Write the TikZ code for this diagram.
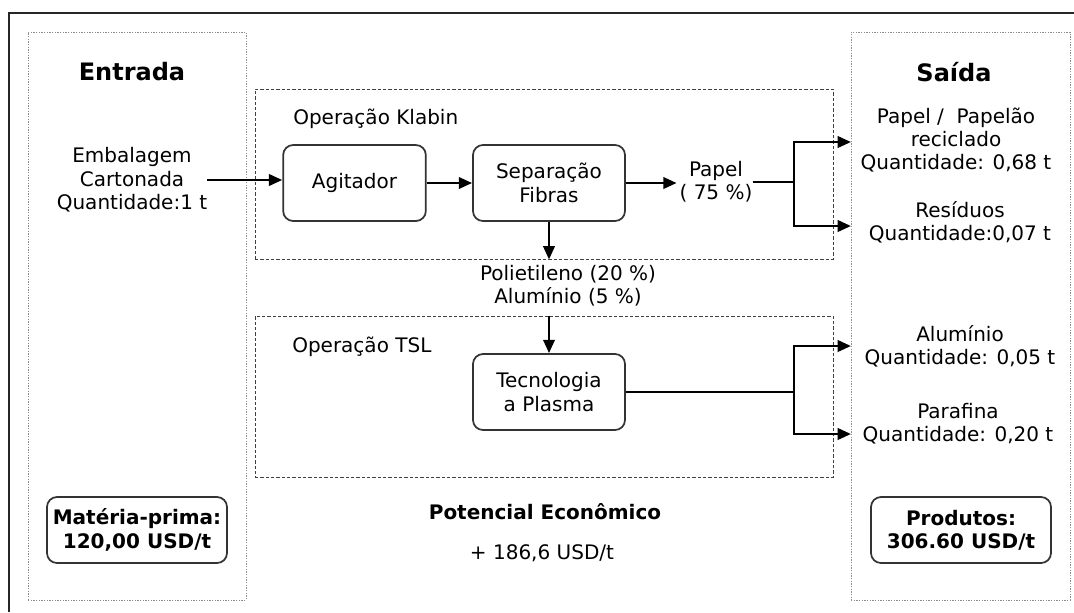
\documentclass[tikz,border=0pt]{standalone}
\usepackage{fontspec}
\setmainfont{DejaVu Sans}
\usetikzlibrary{arrows.meta,positioning}

\begin{document}
\begin{tikzpicture}[x=0.75pt,y=-0.75pt,
	every node/.style={font=\fontsize{15}{17.5}\selectfont, align=center, inner sep=0},
	arr/.style={line width=2pt, -{Triangle[length=10pt,width=8.5pt]}},
	wire/.style={line width=2pt},
	proc/.style={draw=black!80, line width=1.3pt, rounded corners=7.5pt,
				minimum width=114pt, minimum height=57pt},
	price/.style={proc, minimum width=135pt, minimum height=49.5pt,
				font=\fontsize{15}{17.5}\selectfont\bfseries},
	zone/.style={draw=black!45, line width=0.75pt, dash pattern=on 1pt off 1pt},
	opbox/.style={draw=black!75, line width=0.75pt, dash pattern=on 2.5pt off 1.5pt},
	title/.style={font=\fontsize{18}{21}\selectfont\bfseries}]
	\useasboundingbox (0,0) rectangle (1074,612);
	\draw[line width=0.9pt, black!85] (9,612) -- (9,13) -- (1074,13);

	% zonas
	\node[zone, minimum width=163.5pt, minimum height=426pt] (entradaBox) at (137,316) {};
	\node[zone, minimum width=164.25pt, minimum height=426pt] (saidaBox) at (960.5,316) {};
	\node[opbox, minimum width=433.5pt, minimum height=127.5pt] (klabinBox) at (544,174) {};
	\node[opbox, minimum width=433.5pt, minimum height=120.75pt] (tslBox) at (544,396.5) {};

	\node[title] (entrada) at (132,72) {Entrada};
	\node[title] (saida) at (954,72) {Saída};
	\node (embal) at (132,180) {Embalagem\\Cartonada\\Quantidade:1 t};

	% Klabin
	\node[anchor=west] (klabin) at (293,119) {Operação Klabin};
	\node[proc, minimum width=107pt] (agit) at (354.5,183) {Agitador};
	\node[proc] (sep) at (549,183) {Separação\\Fibras};
	\node (papel) at (716,182) {Papel\\( 75 \%)};
	\node (poli) at (568,286) {Polietileno (20 \%)\\Alumínio (5 \%)};

	% TSL
	\node[anchor=west] (tsl) at (292,347) {Operação TSL};
	\node[proc] (tec) at (549,392) {Tecnologia\\a Plasma};

	% saidas
	\node (out1) at (956,140) {Papel /\ \ Papelão\\reciclado\\Quantidade: 0,68 t};
	\node (out2) at (960,222) {Resíduos\\Quantidade:0,07 t};
	\node (out3) at (960,346) {Alumínio\\Quantidade: 0,05 t};
	\node (out4) at (958,424) {Parafina\\Quantidade: 0,20 t};

	\node[price] (mp) at (137,530) {Matéria-prima:\\120,00 USD/t};
	\node[price] (prod) at (961,530) {Produtos:\\306.60 USD/t};
	\node[font=\fontsize{15}{17.5}\selectfont\bfseries] (pot) at (545,512) {Potencial Econômico};
	\node (ganho) at (542,553) {+ 186,6 USD/t};

	\coordinate (k1) at (794,182);
	\coordinate (k2) at (794,392);
	\coordinate (e1) at (851,142);
	\coordinate (e2) at (851,226);
	\coordinate (e3) at (851,346);
	\coordinate (e4) at (851,434);

	\draw[arr] (embal.east) -- (embal.east -| agit.west);
	\draw[arr] (agit) -- (sep);
	\draw[arr] (sep.east) -- ([xshift=-2pt]sep.east -| papel.west);
	\draw[wire] (papel.east |- k1) -- (k1);
	\draw[arr] (k1) |- (e1);
	\draw[arr] (k1) |- (e2);
	\draw[arr] (sep) -- (sep |- klabinBox.south);
	\draw[arr] (tslBox.north -| tec) -- (tec);
	\draw[wire] (tec) -- (k2);
	\draw[arr] (k2) |- (e3);
	\draw[arr] (k2) |- (e4);
\end{tikzpicture}
\end{document}
